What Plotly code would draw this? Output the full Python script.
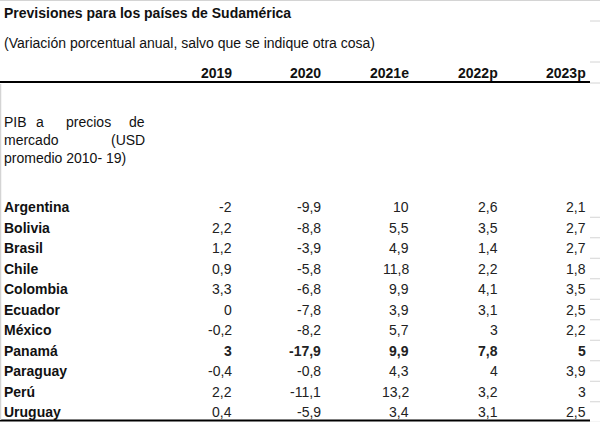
import plotly.graph_objects as go

# ---- data ----
title = "Previsiones para los países de Sudamérica"
subtitle = "(Variación porcentual anual, salvo que se indique otra cosa)"
years = ["2019", "2020", "2021e", "2022p", "2023p"]
countries = ["Argentina", "Bolivia", "Brasil", "Chile", "Colombia", "Ecuador",
             "México", "Panamá", "Paraguay", "Perú", "Uruguay"]
v2019 = [-2, 2.2, 1.2, 0.9, 3.3, 0, -0.2, 3, -0.4, 2.2, 0.4]
v2020 = [-9.9, -8.8, -3.9, -5.8, -6.8, -7.8, -8.2, -17.9, -0.8, -11.1, -5.9]
v2021 = [10, 5.5, 4.9, 11.8, 9.9, 3.9, 5.7, 9.9, 4.3, 13.2, 3.4]
v2022 = [2.6, 3.5, 1.4, 2.2, 4.1, 3.1, 3, 7.8, 4, 3.2, 3.1]
v2023 = [2.1, 2.7, 2.7, 1.8, 3.5, 2.5, 2.2, 5, 3.9, 3, 2.5]
bold_rows = ["Panamá"]
series = [v2019, v2020, v2021, v2022, v2023]

W, H = 600, 422
FONT = "Liberation Sans, Arial, sans-serif"
COL = "#111111"

# axis geometry: column i right edge, row j centre
col0_px, col_step = 234, 88.5
row0_px, row_step = 207, 20.5
xr = [(0 - col0_px) / col_step, (W - col0_px) / col_step]
yr = [(H - row0_px) / row_step, (0 - row0_px) / row_step]


def fmt(v):
    s = ("%g" % v).replace(".", ",")
    return s


def px_x(p):
    return (p - col0_px) / col_step


def px_y(p):
    return (p - row0_px) / row_step


ann = []
# title & subtitle
ann.append(dict(x=px_x(2), y=px_y(12.5), text="<b>%s</b>" % title, xanchor="left",
                yanchor="middle", font=dict(size=14, color=COL, family=FONT)))
ann.append(dict(x=px_x(2), y=px_y(42.5), text=subtitle, xanchor="left",
                yanchor="middle", font=dict(size=14, color=COL, family=FONT)))
# headers
for i, yname in enumerate(years):
    ann.append(dict(x=i, y=px_y(72.5), text="<b>%s</b>" % yname, xanchor="right",
                    yanchor="middle", font=dict(size=14, color=COL, family=FONT)))
# PIB justified label
pib_words = [("PIB", 2, 122, "left"), ("a", 34, 122, "left"), ("precios", 64, 122, "left"),
             ("de", 147, 122, "right"), ("mercado", 2, 140, "left"), ("(USD", 147, 140, "right"),
             ("promedio 2010- 19)", 2, 158, "left")]
for w, xp, yp, anc in pib_words:
    ann.append(dict(x=px_x(xp), y=px_y(yp), text=w, xanchor=anc, yanchor="middle",
                    font=dict(size=14, color=COL, family=FONT)))
# rows
for j, c in enumerate(countries):
    b = c in bold_rows
    ann.append(dict(x=px_x(2), y=j, text="<b>%s</b>" % c, xanchor="left", yanchor="middle",
                    font=dict(size=14, color=COL, family=FONT)))
    for i, s in enumerate(series):
        t = fmt(s[j])
        if b:
            t = "<b>%s</b>" % t
        ann.append(dict(x=i, y=j, text=t, xanchor="right", yanchor="middle",
                        font=dict(size=14, color="#222222", family=FONT)))
for a in ann:
    a.update(xref="x", yref="y", showarrow=False)

shapes = []
# header rule and bottom rule
shapes.append(dict(type="line", xref="x", yref="y", x0=px_x(0), x1=px_x(590),
                   y0=px_y(82), y1=px_y(82), line=dict(color="#000000", width=2)))
shapes.append(dict(type="line", xref="x", yref="y", x0=px_x(0), x1=px_x(590),
                   y0=px_y(420.5), y1=px_y(420.5), line=dict(color="#000000", width=2)))
# faint spreadsheet gridlines
shapes.append(dict(type="line", xref="x", yref="y", x0=px_x(0), x1=px_x(600),
                   y0=px_y(0.5), y1=px_y(0.5), line=dict(color="#d4d4d4", width=1)))
shapes.append(dict(type="line", xref="x", yref="y", x0=px_x(0.5), x1=px_x(0.5),
                   y0=px_y(84), y1=px_y(420), line=dict(color="#d4d4d4", width=1.5)))
for yp in [21, 62, 83]:
    shapes.append(dict(type="line", xref="x", yref="y", x0=px_x(590), x1=px_x(600),
                       y0=px_y(yp), y1=px_y(yp), line=dict(color="#d4d4d4", width=1)))
for j in range(len(countries)):
    shapes.append(dict(type="line", xref="x", yref="y", x0=px_x(590), x1=px_x(600),
                       y0=j + 0.5, y1=j + 0.5, line=dict(color="#d4d4d4", width=1)))

fig = go.Figure()
fig.add_trace(go.Scatter(x=[xr[0]], y=[yr[0]], mode="markers", marker=dict(opacity=0),
                         hoverinfo="skip", showlegend=False))
fig.update_layout(
    width=W, height=H, margin=dict(l=0, r=0, t=0, b=0),
    paper_bgcolor="white", plot_bgcolor="white",
    xaxis=dict(range=xr, visible=False, fixedrange=True),
    yaxis=dict(range=yr, visible=False, fixedrange=True),
    annotations=ann, shapes=shapes, showlegend=False,
)
fig.write_html(
    "out.html",
    config={"displayModeBar": False, "staticPlot": True},
    post_script="document.body.style.margin='0';document.body.style.overflow='hidden';",
)
